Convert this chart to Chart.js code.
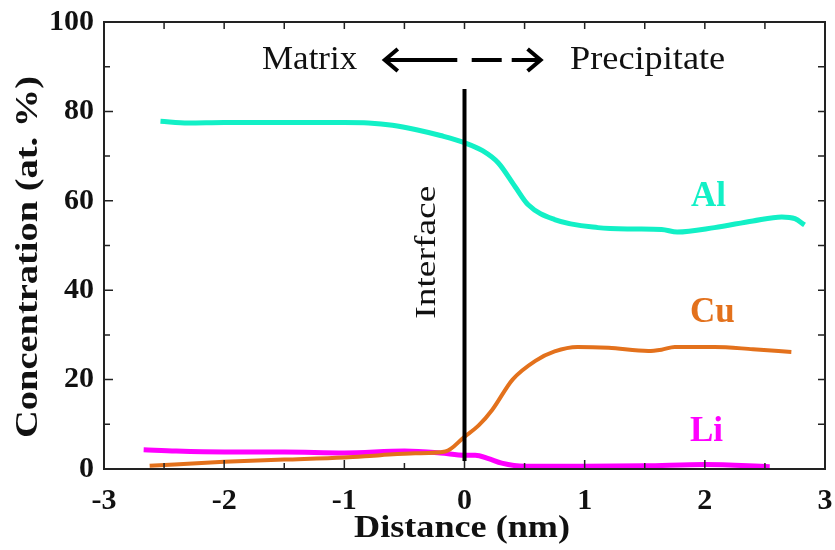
<!DOCTYPE html>
<html>
<head>
<meta charset="utf-8">
<script src="https://cdn.jsdelivr.net/npm/chart.js@4.4.1/dist/chart.umd.min.js"></script>
<style>
  html, body { margin: 0; padding: 0; background: #fff; }
  #wrap { width: 835px; height: 550px; }
</style>
</head>
<body>
<div id="wrap"><canvas id="profileChart" width="835" height="550"></canvas></div>
<script>
// concentration profiles across the interface (distance in nm, at. %)
const alX = [-2.53, -2.3, -2.0, -1.5, -1.0, -0.8, -0.6, -0.4, -0.2, 0.0, 0.15, 0.28, 0.42, 0.53, 0.75, 1.11, 1.4, 1.64, 1.77, 2.08, 2.4, 2.64, 2.75, 2.83];
const alY = [77.8, 77.4, 77.5, 77.5, 77.5, 77.4, 76.9, 75.9, 74.6, 73.0, 71.2, 68.5, 63.2, 59.1, 55.8, 54.0, 53.7, 53.6, 53.0, 54.0, 55.5, 56.4, 56.0, 54.6];

const cuX = [-2.62, -2.0, -1.5, -1.0, -0.7, -0.41, -0.16, 0.0, 0.12, 0.23, 0.4, 0.59, 0.75, 0.94, 1.2, 1.53, 1.64, 1.75, 2.08, 2.4, 2.72];
const cuY = [0.7, 1.6, 2.1, 2.6, 3.1, 3.5, 3.9, 7.2, 9.8, 13.2, 20.0, 24.2, 26.3, 27.3, 27.1, 26.4, 26.7, 27.3, 27.3, 26.8, 26.2];

const liX = [-2.67, -2.4, -2.0, -1.5, -1.0, -0.5, -0.2, 0.0, 0.09, 0.2, 0.31, 0.5, 1.0, 1.5, 2.0, 2.54];
const liY = [4.3, 4.0, 3.8, 3.8, 3.6, 4.0, 3.6, 3.1, 3.1, 2.3, 1.3, 0.6, 0.6, 0.7, 1.0, 0.5];

const xTicks = [-3, -2, -1, 0, 1, 2, 3];
const yTicks = [0, 20, 40, 60, 80, 100];

const AL = "#12f0c6", CU = "#e3711c", LI = "#ff00ff";
const SERIF = "'Liberation Serif', 'Times New Roman', serif";

function pts(xs, ys) {
  return xs.map((x, i) => ({ x: x, y: ys[i] }));
}

function line(label, xs, ys, color, width) {
  return {
    label: label,
    data: pts(xs, ys),
    showLine: true,
    borderColor: color,
    backgroundColor: color,
    borderWidth: width,
    pointRadius: 0,
    cubicInterpolationMode: "monotone",
    borderCapStyle: "butt"
  };
}

// text squeezed/stretched along its own direction
function wideText(ctx, text, x, y, sx, angle) {
  ctx.save();
  ctx.translate(x, y);
  if (angle) ctx.rotate(angle);
  ctx.scale(sx, 1);
  ctx.fillText(text, 0, 0);
  ctx.restore();
}

// frame, inward ticks, axis titles, interface line and text labels
const decor = {
  id: "decor",
  afterDatasetsDraw(chart) {
    const ctx = chart.ctx;
    const xs = chart.scales.x, ys = chart.scales.y;
    const a = chart.chartArea;
    ctx.save();
    ctx.strokeStyle = "#222";
    ctx.lineWidth = 2;
    ctx.strokeRect(a.left, a.top, a.right - a.left, a.bottom - a.top);

    ctx.lineWidth = 1.5;
    ctx.beginPath();
    for (let v = -2.5; v <= 2.5; v += 0.5) {
      const px = xs.getPixelForValue(v);
      const major = Number.isInteger(v);
      ctx.moveTo(px, a.bottom); ctx.lineTo(px, a.bottom - (major ? 9 : 6));
      ctx.moveTo(px, a.top); ctx.lineTo(px, a.top + 7);
    }
    for (let v = 10; v <= 90; v += 10) {
      const py = ys.getPixelForValue(v);
      const major = v % 20 === 0;
      ctx.moveTo(a.left, py); ctx.lineTo(a.left + (major ? 9 : 6), py);
      ctx.moveTo(a.right, py); ctx.lineTo(a.right - 7, py);
    }
    ctx.stroke();

    // axis titles
    ctx.fillStyle = "#111";
    ctx.textAlign = "center";
    ctx.textBaseline = "middle";
    ctx.font = "bold 32px " + SERIF;
    wideText(ctx, "Distance (nm)", 462, 529, 1.13, 0);
    ctx.font = "bold 31px " + SERIF;
    wideText(ctx, "Concentration (at. %)", 29, 257, 1.24, -Math.PI / 2);

    // interface marker
    const x0 = xs.getPixelForValue(0);
    ctx.strokeStyle = "#000";
    ctx.lineWidth = 4;
    ctx.beginPath();
    ctx.moveTo(x0, ys.getPixelForValue(85));
    ctx.lineTo(x0, ys.getPixelForValue(1.8));
    ctx.stroke();

    ctx.font = "30px " + SERIF;
    wideText(ctx, "Interface", x0 - 37, ys.getPixelForValue(48.5), 1.25, -Math.PI / 2);

    // matrix / precipitate arrows
    const ay = ys.getPixelForValue(91.5);
    ctx.font = "33px " + SERIF;
    ctx.textAlign = "left";
    wideText(ctx, "Matrix", 262, ay, 1.06, 0);
    wideText(ctx, "Precipitate", 570, ay, 1.1, 0);

    ctx.lineWidth = 4;
    ctx.lineJoin = "miter";
    ctx.beginPath();
    const l0 = xs.getPixelForValue(-0.68), l1 = xs.getPixelForValue(-0.06);
    const r0 = xs.getPixelForValue(0.06), r1 = xs.getPixelForValue(0.65);
    ctx.moveTo(l0 + 2, ay); ctx.lineTo(l1, ay);
    ctx.moveTo(r0, ay); ctx.lineTo(r0 + 30, ay);
    ctx.moveTo(r0 + 40, ay); ctx.lineTo(r1 - 2, ay);
    ctx.stroke();
    ctx.beginPath();
    ctx.moveTo(l0 + 15, ay - 11); ctx.lineTo(l0 + 2, ay); ctx.lineTo(l0 + 15, ay + 11);
    ctx.moveTo(r1 - 15, ay - 11); ctx.lineTo(r1 - 2, ay); ctx.lineTo(r1 - 15, ay + 11);
    ctx.stroke();

    // element labels
    ctx.font = "bold 35px " + SERIF;
    ctx.textAlign = "left";
    ctx.fillStyle = AL;
    ctx.fillText("Al", 691, ys.getPixelForValue(60.8));
    ctx.fillStyle = CU;
    ctx.fillText("Cu", 690, ys.getPixelForValue(35));
    ctx.fillStyle = LI;
    ctx.fillText("Li", 690, ys.getPixelForValue(8.3));
    ctx.restore();
  }
};

new Chart(document.getElementById("profileChart").getContext("2d"), {
  type: "scatter",
  data: {
    datasets: [
      line("Al", alX, alY, AL, 5),
      line("Cu", cuX, cuY, CU, 4),
      line("Li", liX, liY, LI, 5)
    ]
  },
  options: {
    responsive: false,
    animation: false,
    layout: { padding: { top: 22, right: 10, left: 0, bottom: 0 } },
    plugins: { legend: { display: false }, tooltip: { enabled: false } },
    scales: {
      x: {
        type: "linear",
        min: -3,
        max: 3,
        afterBuildTicks(scale) { scale.ticks = xTicks.map(v => ({ value: v })); },
        afterFit(scale) {
          scale.height = 81;
          scale.paddingLeft = 0;
          scale.paddingRight = 0;
        },
        grid: { display: false, drawTicks: false },
        border: { display: false },
        ticks: {
          color: "#111",
          padding: 14,
          font: { family: SERIF, size: 30, weight: "bold" },
          callback: v => String(v)
        }
      },
      y: {
        min: 0,
        max: 100,
        afterBuildTicks(scale) { scale.ticks = yTicks.map(v => ({ value: v })); },
        afterFit(scale) {
          scale.width = 104;
          scale.paddingTop = 0;
          scale.paddingBottom = 0;
        },
        grid: { display: false, drawTicks: false },
        border: { display: false },
        ticks: {
          color: "#111",
          padding: 10,
          font: { family: SERIF, size: 30, weight: "bold" }
        }
      }
    }
  },
  plugins: [decor]
});
</script>
</body>
</html>
